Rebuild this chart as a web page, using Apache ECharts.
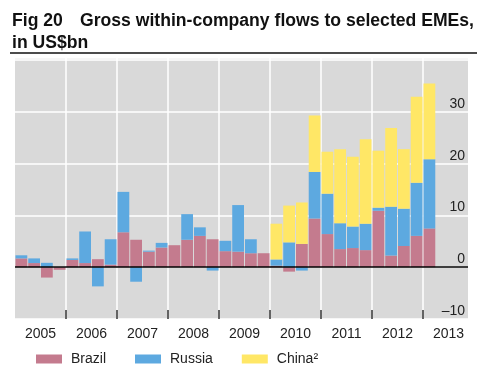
<!DOCTYPE html>
<html>
<head>
<meta charset="utf-8">
<script src="https://cdn.jsdelivr.net/npm/echarts@6/dist/echarts.min.js"></script>
<style>html,body{margin:0;padding:0;background:#fff;}#c{width:488px;height:374px;}</style>
</head>
<body>
<div id="c"></div>
<script>
// Quarters 2005Q1 .. 2013Q1 (data), axis runs through 2013Q4
const quarters = ['2005Q1','2005Q2','2005Q3','2005Q4','2006Q1','2006Q2','2006Q3','2006Q4',
  '2007Q1','2007Q2','2007Q3','2007Q4','2008Q1','2008Q2','2008Q3','2008Q4',
  '2009Q1','2009Q2','2009Q3','2009Q4','2010Q1','2010Q2','2010Q3','2010Q4',
  '2011Q1','2011Q2','2011Q3','2011Q4','2012Q1','2012Q2','2012Q3','2012Q4','2013Q1'];
const axisQuarters = quarters.concat(['2013Q2','2013Q3','2013Q4']);
const brazil = [1.7, 0.8, -2.0, -0.5, 1.4, 0.8, 1.55, 0.5, 6.75, 5.3, 3.0, 3.8, 4.25, 5.3, 6.05, 5.4,
  3.1, 3.0, 2.7, 2.7, 0.3, -0.85, 4.5, 9.4, 6.4, 3.5, 3.7, 3.3, 10.9, 2.25, 4.1, 6.05, 7.5];
const russia = [0.6, 0.9, 0.85, 0, 0.3, 6.1, -3.7, 4.9, 7.8, -2.8, 0.2, 0.9, 0, 4.95, 1.65, -0.65,
  2.0, 9.0, 2.7, 0, 1.2, 4.8, -0.65, 9.0, 7.8, 5.0, 4.15, 5.1, 0.6, 9.45, 7.2, 10.25, 13.35];
const china = [null, null, null, null, null, null, null, null, null, null, null, null, null, null, null, null,
  null, null, null, null, 6.9, 7.1, 8.0, 10.9, 8.1, 14.3, 13.5, 16.3, 11.0, 15.2, 11.5, 16.6, 14.65];
const yearLabels = ['2005','2006','2007','2008','2009','2010','2011','2012','2013'];
const yTickLabels = [-10, 0, 10, 20, 30];

const FONT = '"Liberation Sans", Arial, sans-serif';
const COLORS = {Brazil: '#c47b8e', Russia: '#5da9e0', 'China²': '#ffe766'};

const chart = echarts.init(document.getElementById('c'), null, {renderer: 'canvas'});

const yearBoundary = (i) => i > 0 && i < axisQuarters.length && i % 4 === 0;
const innerYearTick = (i) => i > 0 && i < yearLabels.length;

function barSeries(name, data, extra) {
  return Object.assign({
    name: name,
    type: 'bar',
    stack: 'total',
    xAxisIndex: 0,
    data: data,
    barWidth: 11.8,
    itemStyle: {color: COLORS[name]},
    emphasis: {disabled: true},
    animation: false
  }, extra || {});
}

chart.setOption({
  animation: false,
  textStyle: {fontFamily: FONT},
  grid: {
    left: 15, right: 14, top: 58, bottom: 55,
    show: true, backgroundColor: '#d9d9d9', borderWidth: 0,
    containLabel: false
  },
  legend: {
    left: 31, top: 347,
    itemWidth: 26, itemHeight: 9, itemGap: 29,
    icon: 'rect',
    data: ['Brazil', 'Russia', 'China²'],
    textStyle: {fontFamily: FONT, fontSize: 14, color: '#222', padding: [0, 0, 0, 4]},
    selectedMode: false
  },
  xAxis: [
    {
      type: 'category',
      data: axisQuarters,
      boundaryGap: true,
      position: 'bottom',
      axisLine: {show: false},
      axisTick: {show: false},
      splitLine: {show: true, interval: yearBoundary, lineStyle: {color: '#ffffff', width: 1.5}},
      axisLabel: {show: false}
    },
    {
      type: 'category',
      data: yearLabels,
      boundaryGap: true,
      position: 'bottom',
      z: 5,
      axisLine: {show: false},
      axisTick: {show: true, inside: true, length: 9, interval: innerYearTick,
        lineStyle: {color: '#333', width: 1.5}},
      splitLine: {show: false},
      axisLabel: {show: true, interval: 0, margin: 8, fontFamily: FONT, fontSize: 14, color: '#222'}
    }
  ],
  yAxis: {
    type: 'value',
    position: 'right',
    min: -10, max: 40.4, interval: 10,
    axisLine: {show: false},
    axisTick: {show: false},
    splitLine: {show: true, lineStyle: {color: '#ffffff', width: 1.5}},
    axisLabel: {
      show: true, inside: true, margin: 9,
      fontFamily: FONT, fontSize: 14, color: '#222',
      verticalAlign: 'bottom', padding: [0, 0, 1, 0],
      formatter: v => yTickLabels.indexOf(v) >= 0 ? String(v).replace('-', '–') : ''
    }
  },
  graphic: [
    {type: 'text', left: 12, top: 12, silent: true,
      style: {text: 'Fig 20', fontFamily: FONT, fontWeight: 'bold', fontSize: 17.6, fill: '#111'}},
    {type: 'text', left: 80, top: 12, silent: true,
      style: {text: 'Gross within-company flows to selected EMEs,', fontFamily: FONT, fontWeight: 'bold', fontSize: 17.6, fill: '#111'}},
    {type: 'text', left: 12, top: 34, silent: true,
      style: {text: 'in US$bn', fontFamily: FONT, fontWeight: 'bold', fontSize: 17.6, fill: '#111'}},
    {type: 'line', silent: true, shape: {x1: 10, y1: 53, x2: 477, y2: 53},
      style: {stroke: '#111', lineWidth: 1.5}},
    {type: 'rect', silent: true, z: 100, shape: {x: 468, y: 55, width: 12, height: 268},
      style: {fill: '#ffffff'}}
  ],
  series: [
    barSeries('Brazil', brazil, {
      markLine: {
        silent: true, symbol: 'none', animation: false,
        label: {show: false},
        lineStyle: {color: '#000', width: 1.5, type: 'solid'},
        emphasis: {disabled: true},
        data: [{yAxis: 0}]
      }
    }),
    barSeries('Russia', russia),
    barSeries('China²', china)
  ]
});
</script>
</body>
</html>
